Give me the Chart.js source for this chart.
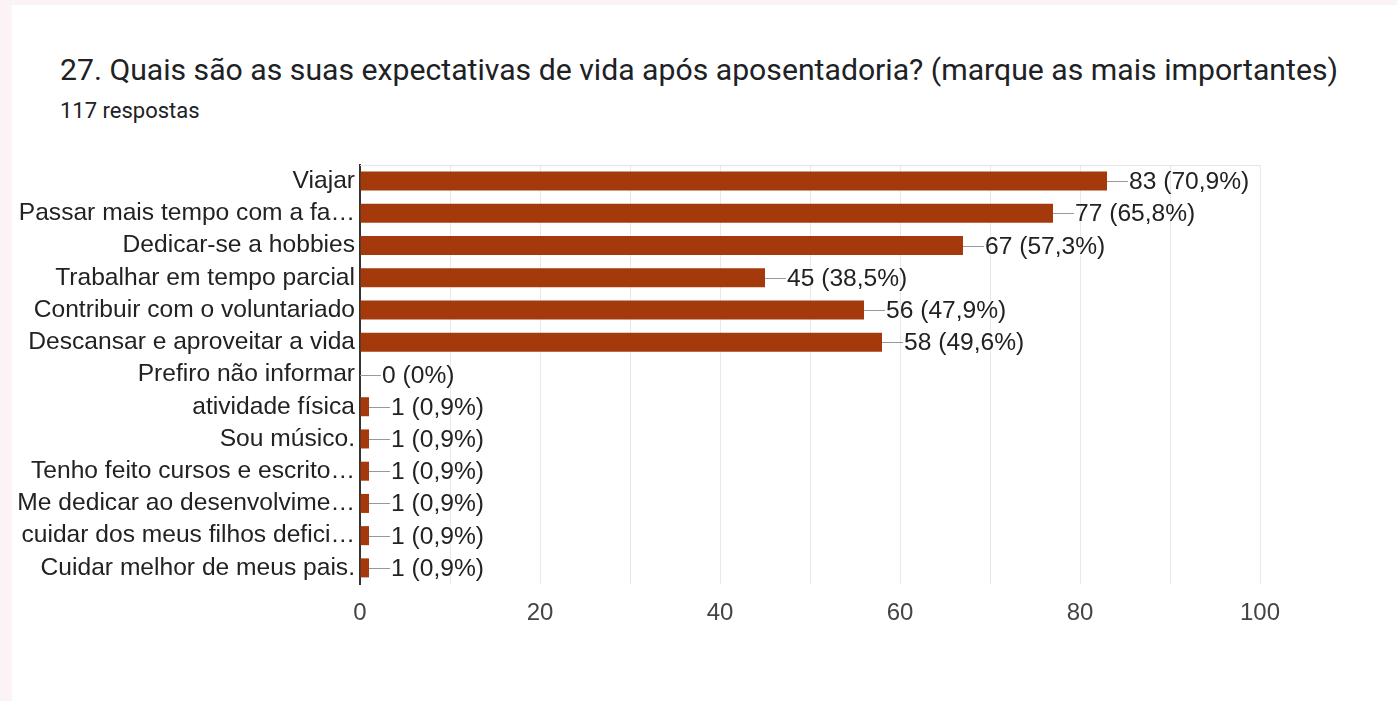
<!DOCTYPE html>
<html lang="pt">
<head>
    <meta charset="UTF-8">
    <title>Expectativas de vida após aposentadoria</title>
    <style>
        body {
            margin: 0;
            background-color: #fbf3f6;
            width: 1397px;
            height: 701px;
            overflow: hidden;
        }

        #card {
            position: absolute;
            left: 12px;
            top: 5px;
            right: 0;
            bottom: 0;
            background: #fff;
        }

        #title {
            position: absolute;
            left: 60px;
            top: 52px;
            font-family: Roboto, sans-serif;
            font-size: 30.2px;
            color: #202124;
            white-space: nowrap;
            margin: 0;
            font-weight: normal;
        }

        #subtitle {
            position: absolute;
            left: 60px;
            top: 98px;
            font-family: Roboto, sans-serif;
            font-size: 22px;
            color: #202124;
        }

        #chart-container {
            position: absolute;
            left: 0;
            top: 140px;
            width: 1397px;
            height: 500px;
        }
    </style>
</head>
<body>
    <div id="card"></div>
    <h1 id="title">27. Quais são as suas expectativas de vida após aposentadoria? (marque as mais importantes)</h1>
    <div id="subtitle">117 respostas</div>

    <div id="chart-container">
        <canvas id="answers-chart"></canvas>
    </div>

    <script src="https://cdn.jsdelivr.net/npm/chart.js"></script>
    <script>
        const categories = [
            'Viajar',
            'Passar mais tempo com a fa…',
            'Dedicar-se a hobbies',
            'Trabalhar em tempo parcial',
            'Contribuir com o voluntariado',
            'Descansar e aproveitar a vida',
            'Prefiro não informar',
            'atividade física',
            'Sou músico.',
            'Tenho feito cursos e escrito…',
            'Me dedicar ao desenvolvime…',
            'cuidar dos meus filhos defici…',
            'Cuidar melhor de meus pais.'
        ];
        const counts = [83, 77, 67, 45, 56, 58, 0, 1, 1, 1, 1, 1, 1];
        const percentLabels = ['70,9%', '65,8%', '57,3%', '38,5%', '47,9%', '49,6%', '0%',
            '0,9%', '0,9%', '0,9%', '0,9%', '0,9%', '0,9%'];
        const xTicks = [0, 20, 40, 60, 80, 100];

        const fontFamily = '"Liberation Sans", Arial, sans-serif';
        const labelFont = '24.6px ' + fontFamily;

        // leader line + "n (p%)" after each bar, plus the light top frame line
        const valueLabels = {
            id: 'valueLabels',
            afterDatasetsDraw(chart) {
                const ctx = chart.ctx;
                const area = chart.chartArea;
                ctx.save();
                ctx.strokeStyle = '#e6e6e6';
                ctx.lineWidth = 1;
                ctx.beginPath();
                ctx.moveTo(area.left, area.top + 0.5);
                ctx.lineTo(area.right, area.top + 0.5);
                ctx.stroke();

                const meta = chart.getDatasetMeta(0);
                ctx.font = labelFont;
                ctx.fillStyle = '#222';
                ctx.textBaseline = 'middle';
                meta.data.forEach((bar, i) => {
                    const x = Math.round(bar.x);
                    const y = Math.round(bar.y) + 0.5;
                    ctx.strokeStyle = '#999';
                    ctx.beginPath();
                    ctx.moveTo(x, y);
                    ctx.lineTo(x + 21, y);
                    ctx.stroke();
                    ctx.fillText(`${counts[i]} (${percentLabels[i]})`, x + 22, y + 1);
                });
                ctx.restore();
            }
        };

        new Chart(document.getElementById('answers-chart'), {
            type: 'bar',
            data: {
                labels: categories,
                datasets: [{
                    data: counts,
                    backgroundColor: '#a43a0b',
                    barPercentage: 0.59,
                    categoryPercentage: 1
                }]
            },
            options: {
                indexAxis: 'y',
                responsive: true,
                maintainAspectRatio: false,
                animation: false,
                events: [],
                layout: {
                    padding: { top: 25, right: 137, bottom: 0, left: 0 }
                },
                plugins: {
                    legend: { display: false },
                    tooltip: { enabled: false }
                },
                scales: {
                    x: {
                        min: 0,
                        max: 100,
                        afterFit: scale => { scale.height = 56; },
                        afterBuildTicks: scale => {
                            const ticks = [];
                            for (let v = 0; v <= 100; v += 10) ticks.push({ value: v });
                            scale.ticks = ticks;
                        },
                        ticks: {
                            autoSkip: false,
                            maxRotation: 0,
                            padding: 15,
                            color: '#444',
                            font: { family: fontFamily, size: 24 },
                            callback: v => xTicks.includes(v) ? String(v) : ''
                        },
                        grid: {
                            color: '#e8e8e8',
                            drawTicks: false
                        },
                        border: { display: false }
                    },
                    y: {
                        afterFit: scale => { scale.width = 360; },
                        ticks: {
                            autoSkip: false,
                            padding: 5,
                            color: '#222',
                            font: { family: fontFamily, size: 24.6 }
                        },
                        grid: { display: false, drawTicks: false },
                        border: { display: true, color: '#333', width: 2 }
                    }
                }
            },
            plugins: [valueLabels]
        });
    </script>
</body>
</html>
